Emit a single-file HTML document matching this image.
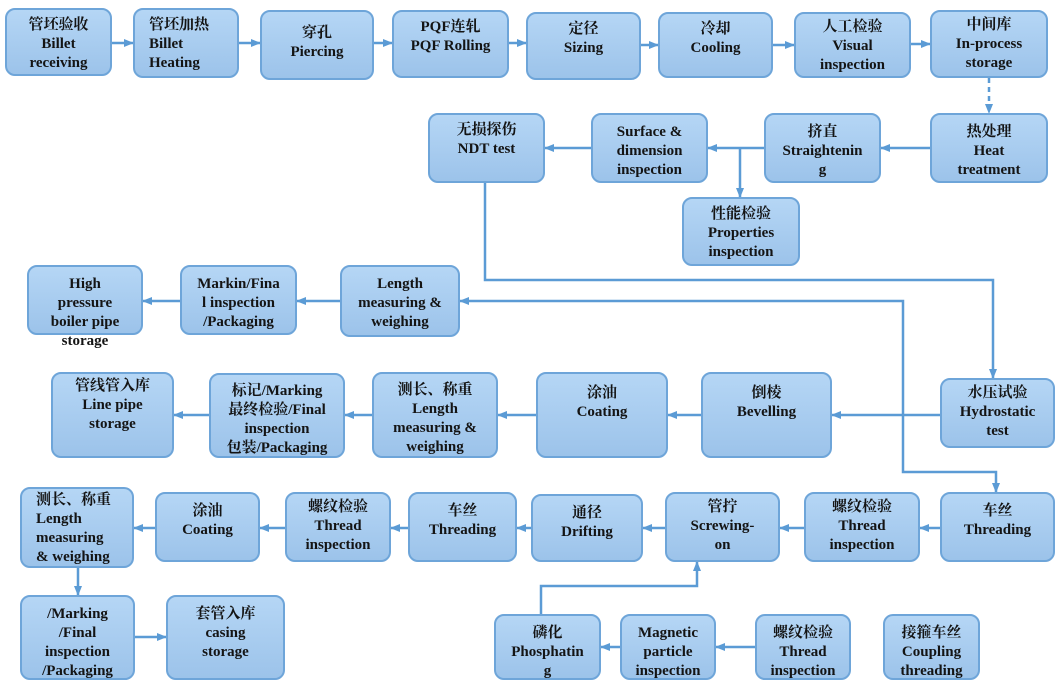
<!DOCTYPE html>
<html><head><meta charset="utf-8"><style>
body{margin:0;width:1060px;height:688px;background:#fff;position:relative;overflow:hidden;font-family:"Liberation Serif","Noto Serif CJK SC",serif;}
.b{position:absolute;box-sizing:border-box;border:2px solid #6ea5d9;border-radius:10px;background:linear-gradient(#b5d6f5,#9cc3ea);color:#141414;font-weight:bold;font-size:15px;line-height:19px;text-align:center;padding-top:6px;}
.b span{display:block;white-space:nowrap}
svg{position:absolute;left:0;top:0}
</style></head><body>
<svg width="1060" height="688">
<defs><marker id="a" markerWidth="10" markerHeight="10" refX="9" refY="5" orient="auto" markerUnits="userSpaceOnUse"><path d="M0,1 L10,5 L0,9 z" fill="#5b9bd5"/></marker></defs>
<g stroke="#5b9bd5" stroke-width="2.5" fill="none" marker-end="url(#a)">
<line x1="112" y1="43" x2="133" y2="43"/><line x1="239" y1="43" x2="260" y2="43"/><line x1="374" y1="43" x2="392" y2="43"/><line x1="509" y1="43" x2="526" y2="43"/><line x1="641" y1="45" x2="658" y2="45"/><line x1="773" y1="45" x2="794" y2="45"/><line x1="911" y1="44" x2="930" y2="44"/>
<line x1="989" y1="78" x2="989" y2="113" stroke-dasharray="5,4"/>
<line x1="930" y1="148" x2="881" y2="148"/><line x1="764" y1="148" x2="708" y2="148"/><line x1="591" y1="148" x2="545" y2="148"/>
<line x1="740" y1="148" x2="740" y2="197"/>
<polyline points="485,183 485,280 993,280 993,378"/>
<polyline points="903,415 903,301 460,301"/>
<line x1="340" y1="301" x2="297" y2="301"/><line x1="180" y1="301" x2="143" y2="301"/>
<line x1="940" y1="415" x2="832" y2="415"/><line x1="701" y1="415" x2="668" y2="415"/><line x1="536" y1="415" x2="498" y2="415"/><line x1="372" y1="415" x2="345" y2="415"/><line x1="209" y1="415" x2="174" y2="415"/>
<polyline points="903,415 903,472 996,472 996,492"/>
<line x1="940" y1="528" x2="920" y2="528"/><line x1="804" y1="528" x2="780" y2="528"/><line x1="665" y1="528" x2="643" y2="528"/><line x1="531" y1="528" x2="517" y2="528"/><line x1="408" y1="528" x2="391" y2="528"/><line x1="285" y1="528" x2="260" y2="528"/><line x1="155" y1="528" x2="134" y2="528"/>
<line x1="78" y1="568" x2="78" y2="595"/><line x1="135" y1="637" x2="166" y2="637"/>
<polyline points="541,614 541,586 697,586 697,562"/>
<line x1="755" y1="647" x2="716" y2="647"/><line x1="637" y1="647" x2="601" y2="647"/>
</g></svg>

<div class="b" style="left:5px;top:8px;width:107px;height:68px"><span>管坯验收</span><span>Billet</span><span>receiving</span></div>
<div class="b" style="left:133px;top:8px;width:106px;height:70px;text-align:left;padding-left:14px"><span>管坯加热</span><span>Billet</span><span>Heating</span></div>
<div class="b" style="left:260px;top:10px;width:114px;height:70px;padding-top:12px"><span>穿孔</span><span>Piercing</span></div>
<div class="b" style="left:392px;top:10px;width:117px;height:68px"><span>PQF连轧</span><span>PQF Rolling</span></div>
<div class="b" style="left:526px;top:12px;width:115px;height:68px"><span>定径</span><span>Sizing</span></div>
<div class="b" style="left:658px;top:12px;width:115px;height:66px"><span>冷却</span><span>Cooling</span></div>
<div class="b" style="left:794px;top:12px;width:117px;height:66px;padding-top:4px"><span>人工检验</span><span>Visual</span><span>inspection</span></div>
<div class="b" style="left:930px;top:10px;width:118px;height:68px;padding-top:4px"><span>中间库</span><span>In-process</span><span>storage</span></div>

<div class="b" style="left:930px;top:113px;width:118px;height:70px;padding-top:8px"><span>热处理</span><span>Heat</span><span>treatment</span></div>
<div class="b" style="left:764px;top:113px;width:117px;height:70px;padding-top:8px"><span>挤直</span><span>Straightenin</span><span>g</span></div>
<div class="b" style="left:591px;top:113px;width:117px;height:70px;padding-top:8px"><span>Surface &amp;</span><span>dimension</span><span>inspection</span></div>
<div class="b" style="left:428px;top:113px;width:117px;height:70px"><span>无损探伤</span><span>NDT test</span></div>
<div class="b" style="left:682px;top:197px;width:118px;height:69px;padding-top:6px"><span>性能检验</span><span>Properties</span><span>inspection</span></div>

<div class="b" style="left:27px;top:265px;width:116px;height:70px;padding-top:8px"><span>High</span><span>pressure</span><span>boiler pipe</span><span>storage</span></div>
<div class="b" style="left:180px;top:265px;width:117px;height:70px;padding-top:8px"><span>Markin/Fina</span><span>l inspection</span><span>/Packaging</span></div>
<div class="b" style="left:340px;top:265px;width:120px;height:72px;padding-top:8px"><span>Length</span><span>measuring &amp;</span><span>weighing</span></div>

<div class="b" style="left:51px;top:372px;width:123px;height:86px;padding-top:3px"><span>管线管入库</span><span>Line pipe</span><span>storage</span></div>
<div class="b" style="left:209px;top:373px;width:136px;height:85px;padding-top:7px"><span>标记/Marking</span><span>最终检验/Final</span><span>inspection</span><span>包装/Packaging</span></div>
<div class="b" style="left:372px;top:372px;width:126px;height:86px;padding-top:7px"><span>测长、称重</span><span>Length</span><span>measuring &amp;</span><span>weighing</span></div>
<div class="b" style="left:536px;top:372px;width:132px;height:86px;padding-top:10px"><span>涂油</span><span>Coating</span></div>
<div class="b" style="left:701px;top:372px;width:131px;height:86px;padding-top:10px"><span>倒棱</span><span>Bevelling</span></div>
<div class="b" style="left:940px;top:378px;width:115px;height:70px;padding-top:4px"><span>水压试验</span><span>Hydrostatic</span><span>test</span></div>

<div class="b" style="left:940px;top:492px;width:115px;height:70px;padding-top:8px"><span>车丝</span><span>Threading</span></div>
<div class="b" style="left:804px;top:492px;width:116px;height:70px;padding-top:4px"><span>螺纹检验</span><span>Thread</span><span>inspection</span></div>
<div class="b" style="left:665px;top:492px;width:115px;height:70px;padding-top:4px"><span>管拧</span><span>Screwing-</span><span>on</span></div>
<div class="b" style="left:531px;top:494px;width:112px;height:68px;padding-top:8px"><span>通径</span><span>Drifting</span></div>
<div class="b" style="left:408px;top:492px;width:109px;height:70px;padding-top:8px"><span>车丝</span><span>Threading</span></div>
<div class="b" style="left:285px;top:492px;width:106px;height:70px;padding-top:4px"><span>螺纹检验</span><span>Thread</span><span>inspection</span></div>
<div class="b" style="left:155px;top:492px;width:105px;height:70px;padding-top:8px"><span>涂油</span><span>Coating</span></div>
<div class="b" style="left:20px;top:487px;width:114px;height:81px;padding-top:2px;text-align:left;padding-left:14px"><span>测长、称重</span><span>Length</span><span>measuring</span><span>&amp; weighing</span></div>

<div class="b" style="left:20px;top:595px;width:115px;height:85px;padding-top:8px"><span>/Marking</span><span>/Final</span><span>inspection</span><span>/Packaging</span></div>
<div class="b" style="left:166px;top:595px;width:119px;height:85px;padding-top:8px"><span>套管入库</span><span>casing</span><span>storage</span></div>
<div class="b" style="left:494px;top:614px;width:107px;height:66px;padding-top:8px"><span>磷化</span><span>Phosphatin</span><span>g</span></div>
<div class="b" style="left:620px;top:614px;width:96px;height:66px;padding-top:8px"><span>Magnetic</span><span>particle</span><span>inspection</span></div>
<div class="b" style="left:755px;top:614px;width:96px;height:66px;padding-top:8px"><span>螺纹检验</span><span>Thread</span><span>inspection</span></div>
<div class="b" style="left:883px;top:614px;width:97px;height:66px;padding-top:8px"><span>接箍车丝</span><span>Coupling</span><span>threading</span></div>
</body></html>
